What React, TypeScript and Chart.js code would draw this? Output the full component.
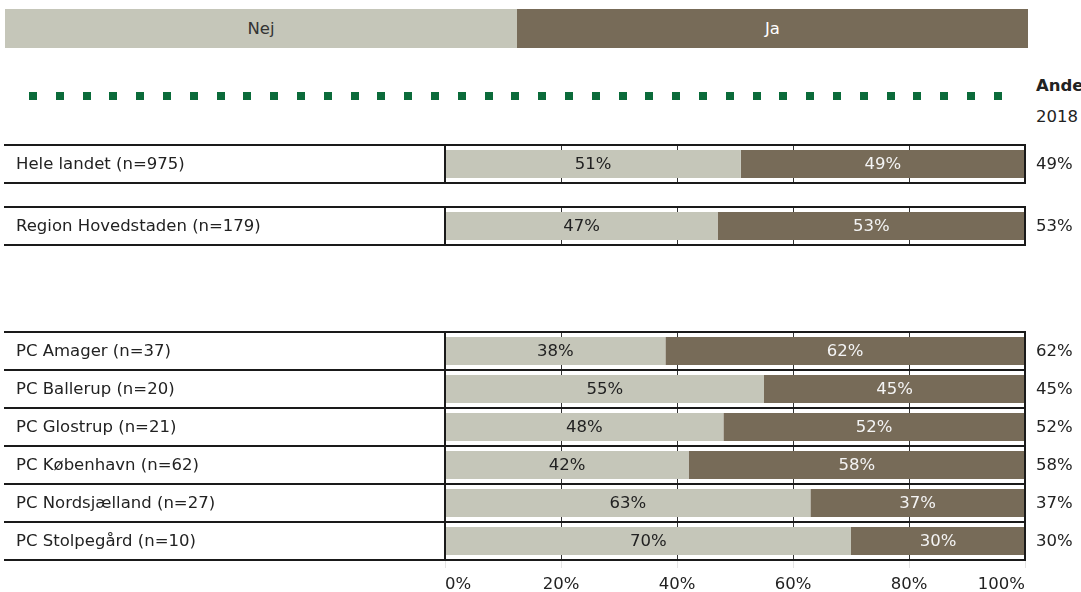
import React, { useEffect, useRef } from "react";
import { Chart, registerables } from "chart.js";

Chart.register(...registerables);

// ---------- data ----------
const seriesNames = ["Nej", "Ja"];

const overallCategories = ["Hele landet (n=975)"];
const overallNej = [51];
const overallJa = [49];
const overall2018 = [49];

const regionCategories = ["Region Hovedstaden (n=179)"];
const regionNej = [47];
const regionJa = [53];
const region2018 = [53];

const pcCategories = [
  "PC Amager (n=37)",
  "PC Ballerup (n=20)",
  "PC Glostrup (n=21)",
  "PC København (n=62)",
  "PC Nordsjælland (n=27)",
  "PC Stolpegård (n=10)",
];
const pcNej = [38, 55, 48, 42, 63, 70];
const pcJa = [62, 45, 52, 58, 37, 30];
const pc2018 = [62, 45, 52, 58, 37, 30];

const xTickValues = [0, 20, 40, 60, 80, 100];
const column2018Title = "Andel ja";
const column2018Year = "2018";

// ---------- styles ----------
const FONT = '"DejaVu Sans", Verdana, sans-serif';
const FS = 16.5;
const NEJ_COLOR = "#c5c6b9";
const JA_COLOR = "#776b58";
const TEXT = "#222222";
const W = 1081;
const PLOT_LEFT = 445;
const PLOT_RIGHT = 1025;

function makeTablePlugin(labels: string[], extra: number[]) {
  return {
    id: "rowTable",
    afterDatasetsDraw(chart: any) {
      const { ctx, chartArea } = chart;
      const y = chart.scales.y;
      const n = labels.length;
      const rowH = chartArea.height / n;
      ctx.save();
      ctx.font = `${FS}px ${FONT}`;
      ctx.textBaseline = "middle";

      // values inside bars
      ctx.textAlign = "center";
      chart.data.datasets.forEach((ds: any, di: number) => {
        const meta = chart.getDatasetMeta(di);
        meta.data.forEach((el: any, i: number) => {
          const v = ds.data[i];
          const cx = (el.x + el.base) / 2;
          ctx.fillStyle = di === 0 ? TEXT : "#f4f4f4";
          ctx.fillText(v + "%", cx, el.y + 1);
        });
      });

      // row lines
      ctx.strokeStyle = "#1a1a1a";
      ctx.lineWidth = 2;
      for (let i = 0; i < n; i++) {
        const cy = y.getPixelForValue(i);
        const t = Math.round(cy - rowH / 2);
        const b = Math.round(cy + rowH / 2);
        ctx.beginPath();
        ctx.moveTo(4, t);
        ctx.lineTo(chartArea.right + 1, t);
        ctx.moveTo(4, b);
        ctx.lineTo(chartArea.right + 1, b);
        ctx.stroke();
      }
      // vertical borders
      ctx.beginPath();
      ctx.moveTo(chartArea.left, chartArea.top);
      ctx.lineTo(chartArea.left, chartArea.bottom);
      ctx.moveTo(chartArea.right, chartArea.top);
      ctx.lineTo(chartArea.right, chartArea.bottom);
      ctx.stroke();

      // category labels
      ctx.textAlign = "left";
      ctx.fillStyle = TEXT;
      labels.forEach((l, i) => ctx.fillText(l, 16, y.getPixelForValue(i) + 1));

      // right column values (2018)
      extra.forEach((v, i) =>
        ctx.fillText(v + "%", chartArea.right + 11, y.getPixelForValue(i) + 1)
      );
      ctx.restore();
    },
  };
}

type BarTableProps = {
  top: number;
  height: number;
  labels: string[];
  nej: number[];
  ja: number[];
  extra: number[];
  showAxis: boolean;
};

function BarTable({ top, height, labels, nej, ja, extra, showAxis }: BarTableProps) {
  const ref = useRef<HTMLCanvasElement>(null);
  useEffect(() => {
    const axisH = showAxis ? 32 : 0;
    const chart = new Chart(ref.current as HTMLCanvasElement, {
      type: "bar",
      data: {
        labels,
        datasets: [
          {
            label: seriesNames[0],
            data: nej,
            backgroundColor: NEJ_COLOR,
            borderWidth: 0,
            barPercentage: 0.74,
            categoryPercentage: 1,
          },
          {
            label: seriesNames[1],
            data: ja,
            backgroundColor: JA_COLOR,
            borderWidth: 0,
            barPercentage: 0.74,
            categoryPercentage: 1,
          },
        ],
      },
      options: {
        indexAxis: "y",
        animation: false,
        responsive: false,
        maintainAspectRatio: false,
        layout: {
          padding: {
            left: PLOT_LEFT,
            right: W - PLOT_RIGHT,
            top: 5,
            bottom: showAxis ? 0 : height - 5 - 38 * labels.length,
          },
        },
        plugins: {
          legend: { display: false },
          tooltip: { enabled: false },
        },
        scales: {
          x: {
            stacked: true,
            min: 0,
            max: 100,
            afterBuildTicks: (s: any) => {
              s.ticks = xTickValues.map((v) => ({ value: v }));
            },
            afterFit: (s: any) => {
              s.height = axisH;
            },
            border: { display: false },
            grid: {
              color: "#333333",
              lineWidth: 1,
              drawTicks: showAxis,
              tickLength: 8,
              tickColor: "#e4e4e4",
            },
            ticks: {
              display: showAxis,
              align: "inner",
              padding: 7,
              color: TEXT,
              font: { family: FONT, size: FS },
              callback: (v: any) => v + "%",
            },
          },
          y: {
            stacked: true,
            display: false,
          },
        },
      } as any,
      plugins: [makeTablePlugin(labels, extra)],
    });
    return () => chart.destroy();
  }, []);
  return (
    <canvas
      ref={ref}
      width={W}
      height={height}
      style={{ position: "absolute", left: 0, top, width: W, height }}
    />
  );
}

export default function App() {
  return (
    <div
      style={{
        position: "absolute",
        left: 0,
        top: 0,
        width: W,
        height: 592,
        overflow: "hidden",
        background: "#ffffff",
        fontFamily: FONT,
        color: TEXT,
      }}
    >
      {/* legend */}
      <div
        style={{
          position: "absolute",
          left: 5,
          top: 9,
          width: 1023,
          height: 39,
          display: "flex",
          fontSize: FS,
        }}
      >
        <div
          style={{
            width: 512,
            background: NEJ_COLOR,
            color: "#333",
            display: "flex",
            alignItems: "center",
            justifyContent: "center",
          }}
        >
          {seriesNames[0]}
        </div>
        <div
          style={{
            flex: 1,
            background: JA_COLOR,
            color: "#ffffff",
            display: "flex",
            alignItems: "center",
            justifyContent: "center",
          }}
        >
          {seriesNames[1]}
        </div>
      </div>

      {/* dotted green line */}
      <div
        style={{
          position: "absolute",
          left: 29,
          top: 92,
          width: 973,
          height: 8,
          background:
            "repeating-linear-gradient(to right, #0b6b3a 0px, #0b6b3a 8px, transparent 8px, transparent 26.8px)",
        }}
      />

      {/* right column header */}
      <div
        style={{
          position: "absolute",
          left: 1036,
          top: 76,
          fontSize: FS,
          fontWeight: "bold",
          whiteSpace: "nowrap",
        }}
      >
        {column2018Title}
      </div>
      <div style={{ position: "absolute", left: 1036, top: 107, fontSize: FS }}>
        {column2018Year}
      </div>

      <BarTable
        top={140}
        height={50}
        labels={overallCategories}
        nej={overallNej}
        ja={overallJa}
        extra={overall2018}
        showAxis={false}
      />
      <BarTable
        top={202}
        height={50}
        labels={regionCategories}
        nej={regionNej}
        ja={regionJa}
        extra={region2018}
        showAxis={false}
      />
      <BarTable
        top={327}
        height={265}
        labels={pcCategories}
        nej={pcNej}
        ja={pcJa}
        extra={pc2018}
        showAxis={true}
      />
    </div>
  );
}
